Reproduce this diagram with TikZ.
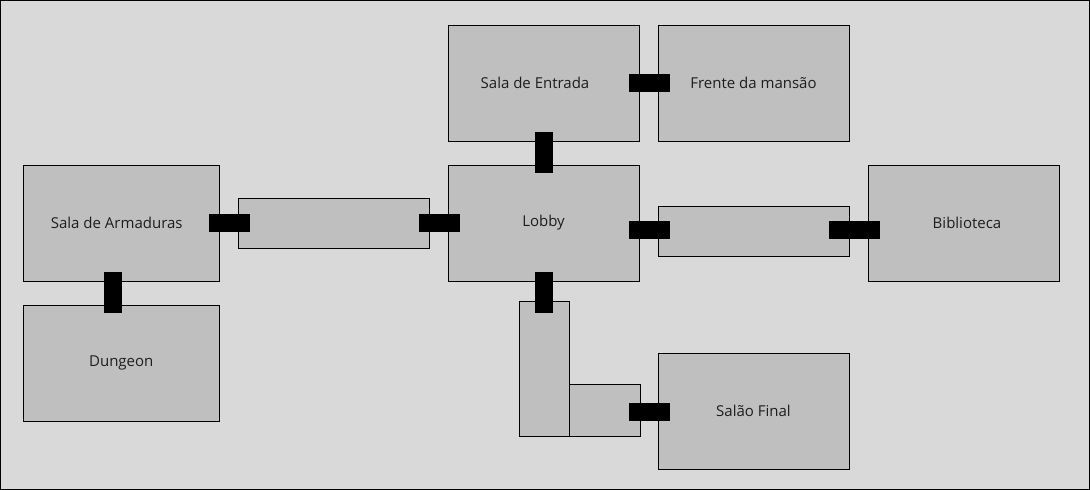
\documentclass[tikz,border=0pt]{standalone}
\usepackage{fontspec}
\setmainfont{Open Sans}
\definecolor{floorgray}{HTML}{D9D9D9}
\definecolor{roomgray}{HTML}{BFBFBF}
\definecolor{labelgray}{HTML}{1E1E1E}
\begin{document}
\begin{tikzpicture}[x=1pt, y=-1pt,
    room/.style={rectangle, draw=black, line width=1pt, fill=roomgray, inner sep=0pt,
        minimum width=191pt, minimum height=116pt, text=labelgray, font=\fontsize{15}{18}\selectfont},
    hall/.style={rectangle, draw=black, line width=1pt, fill=roomgray, inner sep=0pt},
    doorh/.style={rectangle, fill=black, inner sep=0pt, minimum width=41pt, minimum height=18pt},
    doorv/.style={rectangle, fill=black, inner sep=0pt, minimum width=18pt, minimum height=41pt}]
        \useasboundingbox (0, 0) rectangle (1090, 490);
        \draw[fill=floorgray, line width=1pt] (0.5, 0.5) rectangle (1089.5, 489.5);

        \node[room] (entrada) at (543.5, 83) {Sala de Entrada\kern17pt};
        \node[room] (frente) at (753.5, 83) {Frente da mansão};
        \node[room] (lobby) at (543.5, 223) {Lobby};
        \node[room, minimum width=196.5pt] (armaduras) at (121.25, 223) {Sala de Armaduras\kern9pt};
        \node[room, minimum width=196.5pt] (dungeon) at (121.25, 363) {Dungeon};
        \node[room] (biblioteca) at (963.5, 223) {\kern7pt Biblioteca};
        \node[room] (salao) at (753.5, 411) {Salão Final};

        \node[hall, minimum width=191.5pt, minimum height=50pt] (corrA) at (333.75, 223) {};
        \node[hall, minimum width=191.5pt, minimum height=50pt] (corrB) at (753.75, 231) {};
        \node[hall, minimum width=50pt, minimum height=135pt] (corrC) at (544.5, 368.5) {};
        \node[hall, minimum width=71pt, minimum height=52pt] (corrD) at (605, 410) {};

        \node[doorh] (d1) at (649.5, 83) {};
        \node[doorv] (d2) at (544, 152.5) {};
        \node[doorh] (d3) at (229.5, 223) {};
        \node[doorh] (d4) at (439.5, 223) {};
        \node[doorv] (d5) at (113, 292.5) {};
        \node[doorh] (d6) at (649.5, 230) {};
        \node[doorh, minimum width=51pt] (d7) at (854.5, 230) {};
        \node[doorv] (d8) at (544, 292.5) {};
        \node[doorh] (d9) at (649.5, 412) {};

    \end{tikzpicture}
\end{document}
